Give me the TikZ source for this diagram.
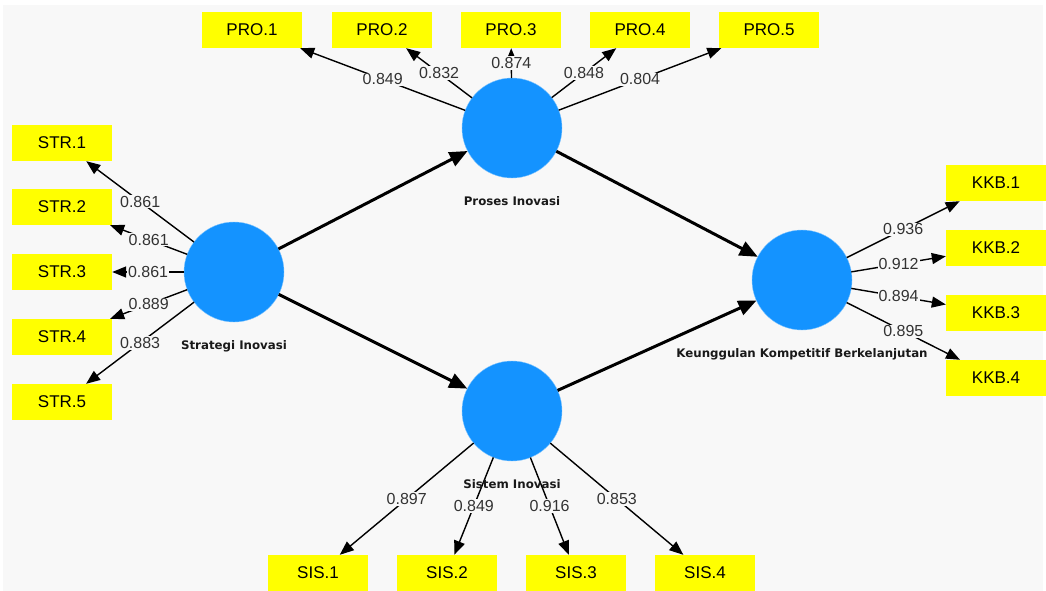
\documentclass[tikz,border=0pt]{standalone}
\usepackage{fontspec}
\setmainfont{Liberation Sans}
\newfontfamily\namefont{DejaVu Sans}
\usepackage{xcolor}
\usetikzlibrary{positioning,arrows.meta}
\definecolor{lvblue}{RGB}{20,147,255}
\definecolor{indyellow}{RGB}{255,255,0}
\definecolor{panel}{RGB}{248,248,248}
\tikzset{
  lv/.style={circle, fill=lvblue, draw=lvblue!55, minimum size=100pt, inner sep=0pt, outer sep=0pt},
  ind/.style={rectangle, fill=indyellow, minimum width=100pt, minimum height=36pt, inner sep=0pt, font=\fontsize{17}{19}\selectfont},
  ld/.style={draw=black, line width=1.4pt, -{Triangle[length=14pt,width=11pt]}},
  pe/.style={draw=black, line width=3pt, -{Triangle[length=18pt,width=15pt]}},
  val/.style={fill=panel, inner sep=1pt, font=\fontsize{16}{18}\selectfont, text=black!80},
  lvname/.style={font=\namefont\bfseries\fontsize{11.8}{13}\selectfont, inner sep=0pt, text=black!90}
}

\begin{document}
\begin{tikzpicture}[x=1pt, y=-1pt]
  \useasboundingbox (0,0) rectangle (1046,591);
  % Background panel
  \fill[white] (0,0) rectangle (1046,591);
  \fill[panel] (3,5) rectangle (1043,591);

  % Latent variables
  \node[lv] (str) at (234,272) {};
  \node[lv] (pro) at (512,128) {};
  \node[lv] (sis) at (512,411) {};
  \node[lv] (kkb) at (802,280) {};

  % Indicators
  \foreach \i/\x in {1/252,2/382,3/511,4/640,5/769}
    \node[ind] (pro\i) at (\x,30) {PRO.\i};
  \foreach \i/\y in {1/143,2/207,3/272,4/337,5/402}
    \node[ind] (str\i) at (62,\y) {STR.\i};
  \foreach \i/\y in {1/183,2/248,3/313,4/378}
    \node[ind] (kkb\i) at (996,\y) {KKB.\i};
  \foreach \i/\x in {1/318,2/447,3/576,4/705}
    \node[ind] (sis\i) at (\x,573) {SIS.\i};

  % Outer loadings
  \foreach \i/\v in {1/0.849,2/0.832,3/0.874,4/0.848,5/0.804}
    \draw[ld] (pro) -- node[val] {\v} (pro\i);
  \foreach \i/\v in {1/0.861,2/0.861,3/0.861,4/0.889,5/0.883}
    \draw[ld] (str) -- node[val] {\v} (str\i);
  \foreach \i/\v in {1/0.936,2/0.912,3/0.894,4/0.895}
    \draw[ld] (kkb) -- node[val] {\v} (kkb\i);
  \foreach \i/\v in {1/0.897,2/0.849,3/0.916,4/0.853}
    \draw[ld] (sis) -- node[val] {\v} (sis\i);

  % Structural paths
  \draw[pe] (str) -- (pro);
  \draw[pe] (str) -- (sis);
  \draw[pe] (pro) -- (kkb);
  \draw[pe] (sis) -- (kkb);

  % Latent names
  \node[lvname, below=18pt of str] (strname) {Strategi Inovasi};
  \node[lvname, below=18pt of pro] (proname) {Proses Inovasi};
  \node[lvname, below=18pt of sis] (sisname) {Sistem Inovasi};
  \node[lvname, below=18pt of kkb] (kkbname) {Keunggulan Kompetitif Berkelanjutan};
\end{tikzpicture}
\end{document}
